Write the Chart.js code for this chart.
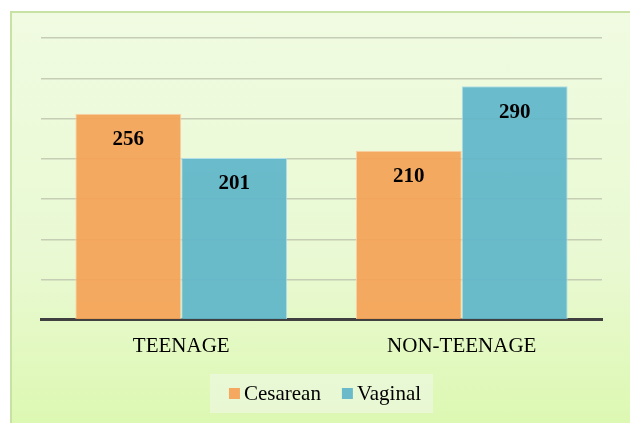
<!DOCTYPE html>
<html>
<head>
<meta charset="utf-8">
<script src="https://cdn.jsdelivr.net/npm/chart.js@4/dist/chart.umd.min.js"></script>
<style>
    html, body { margin: 0; padding: 0; background: #ffffff; overflow: hidden; width: 630px; height: 423px; }
    #frame {
        position: absolute; left: 10px; top: 11px; width: 630px; height: 420px;
        border: 2px solid #c8e2a6;
        background: linear-gradient(to bottom, #f0fbe1 0%, #e9f9d2 60%, #dcf8b0 100%);
    }
    #wrap { position: absolute; left: 0; top: 0; width: 630px; height: 423px; }
</style>
</head>
<body>
<div id="frame"></div>
<div id="wrap"><canvas id="birthChart" width="630" height="423"></canvas></div>
<script>
/* ===============================
   Data
=============================== */

const categories = ["TEENAGE", "NON-TEENAGE"];

const cesarean = [256, 210];

const vaginal = [201, 290];

const yTicks = [0, 50, 100, 150, 200, 250, 300, 350];

const serif = "'Liberation Serif', 'Times New Roman', serif";

/* ===============================
   Plugins
=============================== */

// value labels inside the top of each bar
const barLabels = {
    id: "barLabels",
    afterDatasetsDraw(chart) {
        const ctx = chart.ctx;
        ctx.save();
        ctx.font = "bold 21px " + serif;
        ctx.fillStyle = "#000000";
        ctx.textAlign = "center";
        ctx.textBaseline = "middle";
        chart.data.datasets.forEach(function (ds, i) {
            chart.getDatasetMeta(i).data.forEach(function (bar, j) {
                ctx.fillText(String(ds.data[j]), bar.x, bar.y + 26);
            });
        });
        ctx.restore();
    }
};

// legend row with its light box, drawn under the plot
const boxLegend = {
    id: "boxLegend",
    afterDraw(chart) {
        const ctx = chart.ctx;
        const sets = chart.data.datasets;
        const sq = 11, gap = 4, between = 21;
        ctx.save();
        ctx.font = "21px " + serif;
        let rowWidth = 0;
        sets.forEach(function (ds, i) {
            rowWidth += sq + gap + ctx.measureText(ds.label).width;
            if (i < sets.length - 1) rowWidth += between;
        });
        const area = chart.chartArea;
        const boxW = rowWidth + 31;
        const boxLeft = (area.left + area.right) / 2 - boxW / 2;
        const top = 374, bottom = 413, mid = 393.5;
        ctx.fillStyle = "rgba(236, 248, 222, 0.75)";
        ctx.fillRect(boxLeft, top, boxW, bottom - top);
        let x = boxLeft + 19;
        ctx.textBaseline = "middle";
        ctx.textAlign = "left";
        sets.forEach(function (ds) {
            ctx.fillStyle = ds.backgroundColor;
            ctx.fillRect(x, mid - 5.5, sq, sq);
            x += sq + gap;
            ctx.fillStyle = "#000000";
            ctx.fillText(ds.label, x, mid + 1);
            x += ctx.measureText(ds.label).width + between;
        });
        ctx.restore();
    }
};

/* ===============================
   Chart
=============================== */

new Chart(document.getElementById("birthChart"), {
    type: "bar",
    data: {
        labels: categories,
        datasets: [
            {
                label: "Cesarean",
                data: cesarean,
                backgroundColor: "rgba(244, 163, 87, 0.93)",
                borderColor: "#fbd3ad",
                borderWidth: 1
            },
            {
                label: "Vaginal",
                data: vaginal,
                backgroundColor: "rgba(96, 182, 201, 0.93)",
                borderColor: "#b3dfe9",
                borderWidth: 1
            }
        ]
    },
    options: {
        responsive: false,
        animation: false,
        devicePixelRatio: 1,
        layout: { padding: { left: 41, right: 28, top: 38, bottom: 58 } },
        datasets: {
            bar: { categoryPercentage: 0.755, barPercentage: 1 }
        },
        scales: {
            x: {
                grid: { display: false },
                border: { display: true, color: "#404040", width: 3 },
                ticks: {
                    color: "#000000",
                    font: { family: serif, size: 21 },
                    padding: 6
                }
            },
            y: {
                min: 0,
                max: 350,
                afterBuildTicks: function (scale) {
                    scale.ticks = yTicks.map(function (v) { return { value: v }; });
                },
                ticks: { display: false },
                border: { display: false },
                grid: { color: "#c5cdb4", lineWidth: 1.5, drawTicks: false }
            }
        },
        plugins: {
            legend: { display: false },
            tooltip: { enabled: false }
        }
    },
    plugins: [barLabels, boxLegend]
});
</script>
</body>
</html>
